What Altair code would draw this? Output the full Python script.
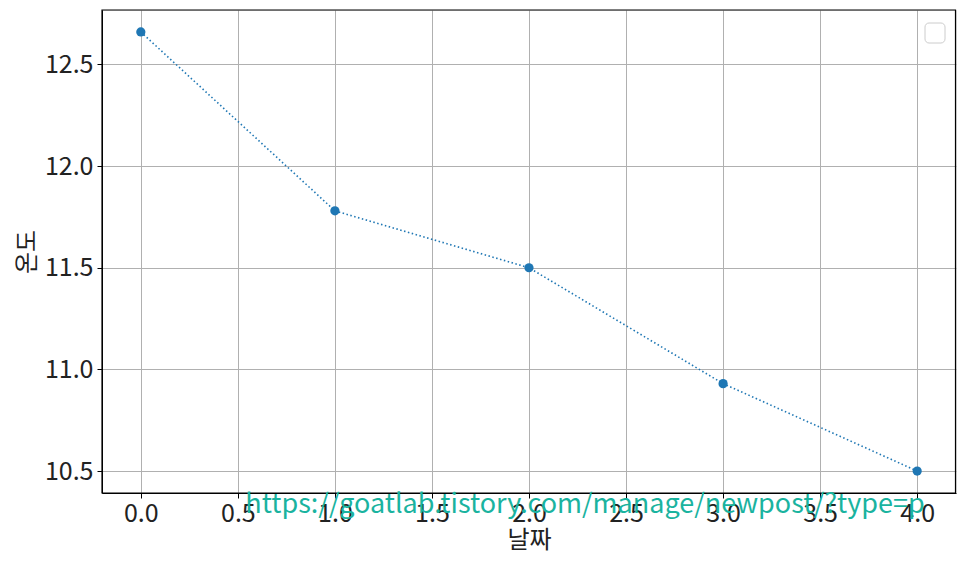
import altair as alt
import pandas as pd

days = [0, 1, 2, 3, 4]
temps = [12.66, 11.78, 11.50, 10.93, 10.50]
x_ticks = [0.0, 0.5, 1.0, 1.5, 2.0, 2.5, 3.0, 3.5, 4.0]
y_ticks = [10.5, 11.0, 11.5, 12.0, 12.5]
watermark = ["https://goatlab.tistory.com/manage/newpost/?type=p"]

df = pd.DataFrame({"day": days, "temp": temps})
FONT = "Noto Sans CJK KR"

xscale = alt.Scale(domain=[-0.2, 4.2], nice=False, zero=False)
yscale = alt.Scale(domain=[10.392, 12.768], nice=False, zero=False)

xenc = alt.X("day:Q", scale=xscale, title="날짜",
             axis=alt.Axis(values=x_ticks, format=".1f", labelFontSize=25, titleFontSize=24,
                           labelFont=FONT, titleFont=FONT, labelColor="#222", titleColor="#222",
                           gridColor="#b0b0b0", domainColor="black", tickColor="black",
                           tickSize=5, labelPadding=3, titlePadding=2, labelFlush=False,
                           titleFontWeight="normal"))
yenc = alt.Y("temp:Q", scale=yscale, title="온도",
             axis=alt.Axis(values=y_ticks, format=".1f", labelFontSize=25, titleFontSize=24,
                           labelFont=FONT, titleFont=FONT, labelColor="#222", titleColor="#222",
                           gridColor="#b0b0b0", domainColor="black", tickColor="black",
                           tickSize=5, labelPadding=4, titlePadding=5, labelFlush=False,
                           titleFontWeight="normal"))

base = alt.Chart(df)
line = base.mark_line(color="#1f77b4", strokeDash=[1.5, 2.5], strokeWidth=1.6).encode(x=xenc, y=yenc)
pts = base.mark_circle(color="#1f77b4", size=85, opacity=1).encode(x="day:Q", y="temp:Q")

legend_box = alt.Chart(pd.DataFrame({"a": [0]})).mark_rect(
    fill="white", stroke="#cccccc", strokeWidth=1, cornerRadius=4
).encode(x=alt.value(823), x2=alt.value(843), y=alt.value(13), y2=alt.value(33))

frame = alt.Chart(pd.DataFrame({"a": [0]})).mark_rect(
    fill=None, stroke="black", strokeWidth=1.2
).encode(x=alt.value(0), x2=alt.value(853.5), y=alt.value(0), y2=alt.value(483))

wm = alt.Chart(pd.DataFrame({"t": watermark})).mark_text(
    font=FONT, fontSize=27, color="#1ab39f", align="center", baseline="middle"
).encode(text="t:N", x=alt.value(483), y=alt.value(495))

chart = alt.layer(line, pts, legend_box, frame, wm).properties(
    width=854, height=483,
    autosize=alt.AutoSizeParams(type="none"),
    padding={"left": 94, "top": 2, "right": 2, "bottom": 64},
).configure_view(stroke="black", strokeWidth=1).configure(background="white")

chart.save("out.html", embed_options={"renderer": "svg", "actions": False})
